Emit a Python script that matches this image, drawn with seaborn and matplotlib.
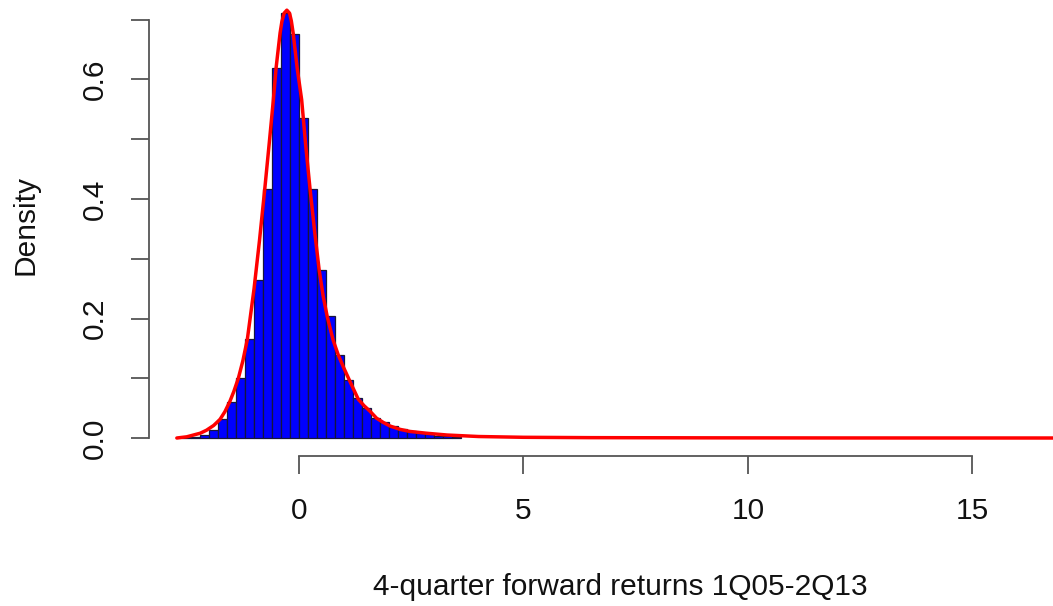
import numpy as np
import pandas as pd
import matplotlib
matplotlib.use("Agg")
import matplotlib.pyplot as plt
import seaborn as sns

# ---- data ----
bin_edges = [-2.6, -2.4, -2.2, -2.0, -1.8, -1.6, -1.4, -1.2, -1.0, -0.8, -0.6,
             -0.4, -0.2, 0.0, 0.2, 0.4, 0.6, 0.8, 1.0, 1.2, 1.4, 1.6, 1.8, 2.0,
             2.2, 2.4, 2.6, 2.8, 3.0, 3.2, 3.4, 3.6]
bin_density = [0.001, 0.002, 0.005, 0.013, 0.031, 0.061, 0.100, 0.165, 0.265,
               0.417, 0.619, 0.712, 0.676, 0.536, 0.416, 0.281, 0.204, 0.139,
               0.097, 0.067, 0.050, 0.033, 0.027, 0.020, 0.015, 0.011, 0.008,
               0.006, 0.004, 0.003, 0.002]

curve_x = [-2.72, -2.5, -2.35, -2.2, -2.06, -1.9, -1.76, -1.65, -1.54, -1.45,
           -1.35, -1.25, -1.15, -1.0, -0.88, -0.76, -0.66, -0.57, -0.51, -0.46,
           -0.42, -0.38, -0.33, -0.27, -0.21, -0.17, -0.13, -0.09, -0.04, 0.06,
           0.15, 0.245, 0.35, 0.45, 0.54, 0.63, 0.76, 0.875, 1.0, 1.14, 1.32,
           1.45, 1.58, 1.73, 1.88, 2.03, 2.25, 2.47, 2.84, 3.3, 4.0, 5.0, 6.5,
           9.0, 12.0, 17.5]
curve_y = [0.0, 0.002, 0.005, 0.008, 0.013, 0.021, 0.031, 0.044, 0.061, 0.078,
           0.100, 0.129, 0.165, 0.25, 0.33, 0.418, 0.495, 0.566, 0.619, 0.652,
           0.678, 0.697, 0.711, 0.716, 0.711, 0.698, 0.678, 0.652, 0.619, 0.566,
           0.49, 0.418, 0.345, 0.281, 0.237, 0.203, 0.164, 0.139, 0.117, 0.094,
           0.065, 0.054, 0.045, 0.033, 0.026, 0.020, 0.0145, 0.011, 0.008, 0.005,
           0.0025, 0.0012, 0.0006, 0.0003, 0.0001, 0.0]

x_ticks = [0, 5, 10, 15]
x_ticklabels = ["0", "5", "10", "15"]
y_ticks = [0.0, 0.1, 0.2, 0.3, 0.4, 0.5, 0.6, 0.7]
y_ticklabels = ["0.0", "", "0.2", "", "0.4", "", "0.6", ""]
x_label = "4-quarter forward returns 1Q05-2Q13"
y_label = "Density"

# ---- style ----
sns.set_style("ticks")
plt.rcParams["font.family"] = ["Liberation Sans", "DejaVu Sans"]

W, H = 1053, 606
fig = plt.figure(figsize=(W / 100, H / 100), dpi=100)
left_px, right_px, bottom_px, top_px = 149, 1091, 456, -5
ax = fig.add_axes([left_px / W, (H - bottom_px) / H,
                   (right_px - left_px) / W, (bottom_px - top_px) / H])

centers = [(a + b) / 2 for a, b in zip(bin_edges[:-1], bin_edges[1:])]
df = pd.DataFrame({"x": centers, "w": bin_density})
sns.histplot(data=df, x="x", weights="w", bins=list(bin_edges), stat="count",
             color="#0000ff", edgecolor="#16163c", linewidth=0.9, alpha=1.0,
             ax=ax)
sns.lineplot(x=curve_x, y=curve_y, color="#ff0000", linewidth=2.5,
             sort=False, ax=ax)

ax.set_xlim(-3.34, 17.64)
ax.set_ylim(-0.0301, 0.7414)

for s in ["top", "right"]:
    ax.spines[s].set_visible(False)
axis_col = "#555555"
ax.spines["left"].set_bounds(0, 0.7)
ax.spines["bottom"].set_bounds(0, 15)
for s in ["left", "bottom"]:
    ax.spines[s].set_color(axis_col)
    ax.spines[s].set_linewidth(1.3)

fs = 21.5
ax.set_xticks(x_ticks)
ax.set_xticklabels(x_ticklabels)
ax.set_yticks(y_ticks)
ax.set_yticklabels(y_ticklabels, rotation=90, va="center")
ax.tick_params(axis="both", length=13, width=1.3, color=axis_col,
               labelsize=fs, labelcolor="#111111")
ax.tick_params(axis="x", pad=16.6)
ax.tick_params(axis="y", pad=15.6)

ax.set_xlabel(x_label, fontsize=fs, color="#111111", labelpad=34.5)
ax.set_ylabel(y_label, fontsize=fs, color="#111111", labelpad=30)

fig.savefig("out.png", dpi=100)
